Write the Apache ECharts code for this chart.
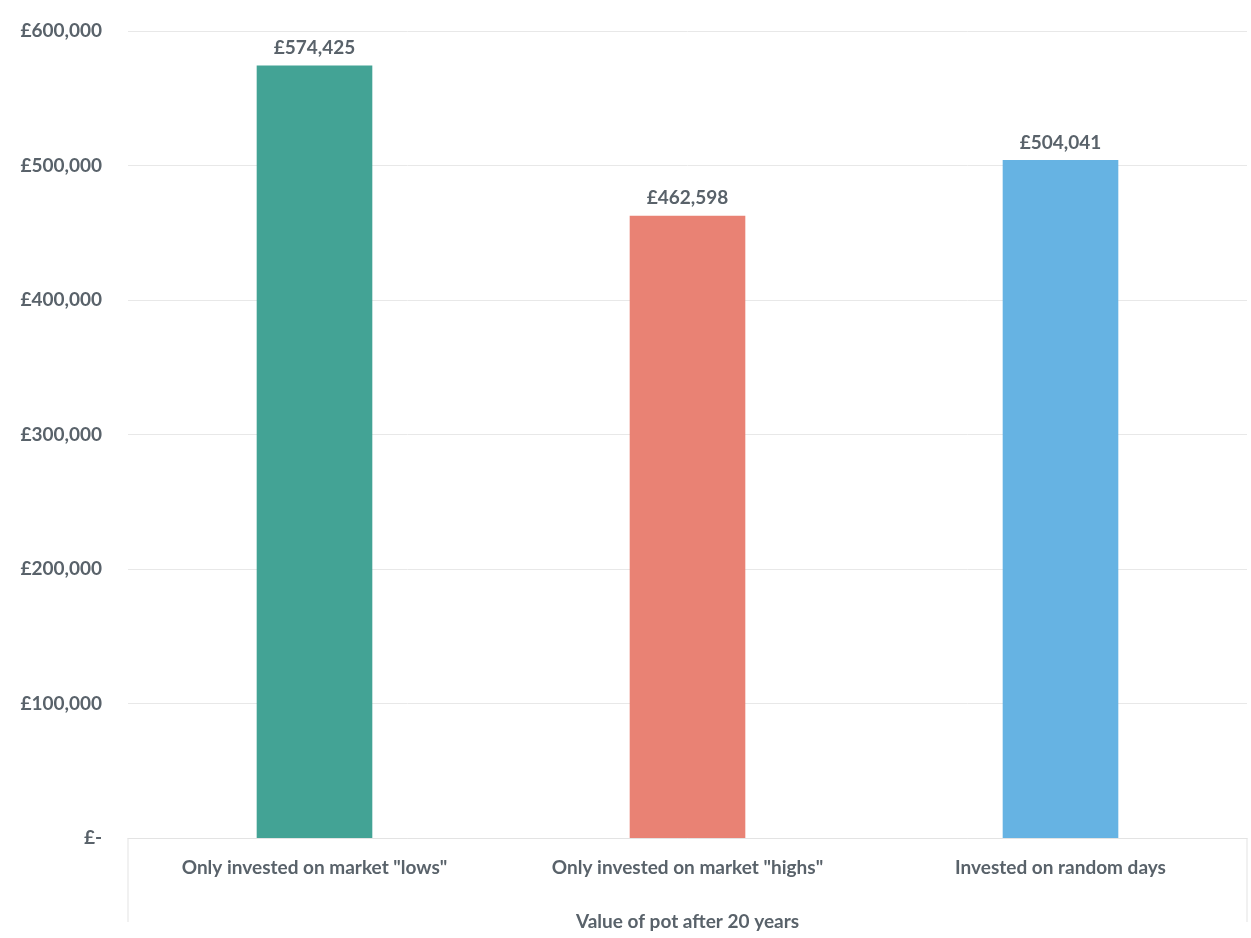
<!DOCTYPE html>
<html>
<head>
<meta charset="utf-8">
<script src="https://cdn.jsdelivr.net/npm/echarts@6/dist/echarts.min.js"></script>
<style>html,body{margin:0;padding:0;background:#fff}#main{width:1251px;height:938px}</style>
</head>
<body>
<div id="main"></div>
<script>
// chart data
var categories = ['Only invested on market "lows"', 'Only invested on market "highs"', 'Invested on random days'];
var values = [574425, 462598, 504041];
var barColors = ['#43A395', '#E98274', '#66B3E3'];
var yTicks = [0, 100000, 200000, 300000, 400000, 500000, 600000];

var textColor = '#59626a';
var font = 'Lato, "Open Sans", sans-serif';

function money(v) {
  if (v === 0) return '£-';
  return '£' + v.toLocaleString('en-GB');
}

var chart = echarts.init(document.getElementById('main'));
var option = {
  animation: false,
  grid: { left: 128, right: 4, top: 31, bottom: 100 },
  xAxis: {
    type: 'category',
    data: categories,
    name: 'Value of pot after 20 years',
    nameLocation: 'middle',
    nameGap: 74,
    nameTextStyle: { color: textColor, fontSize: 19, fontWeight: 'bold', fontFamily: font },
    axisLine: { lineStyle: { color: '#e3e3e3' } },
    axisTick: { show: false },
    axisLabel: { color: textColor, fontSize: 19, fontWeight: 'bold', fontFamily: font, margin: 20 }
  },
  yAxis: {
    type: 'value',
    min: yTicks[0],
    max: yTicks[yTicks.length - 1],
    interval: 100000,
    axisLine: { show: false },
    axisTick: { show: false },
    splitLine: { lineStyle: { color: '#e8e8e8' } },
    axisLabel: {
      color: textColor, fontSize: 19, fontWeight: 'bold', fontFamily: font,
      margin: 26, formatter: money
    }
  },
  series: [{
    type: 'bar',
    barWidth: '31%',
    data: values.map(function (v, i) {
      return { value: v, itemStyle: { color: barColors[i] } };
    }),
    label: {
      show: true, position: 'top', distance: 8,
      color: textColor, fontSize: 19, fontWeight: 'bold', fontFamily: font,
      formatter: function (p) { return money(p.value); }
    }
  }],
  graphic: [
    { type: 'line', shape: { x1: 128, y1: 838, x2: 128, y2: 922 }, style: { stroke: '#e3e3e3', lineWidth: 1 } },
    { type: 'line', shape: { x1: 1247, y1: 838, x2: 1247, y2: 922 }, style: { stroke: '#e3e3e3', lineWidth: 1 } }
  ]
};
chart.setOption(option);
</script>
</body>
</html>
